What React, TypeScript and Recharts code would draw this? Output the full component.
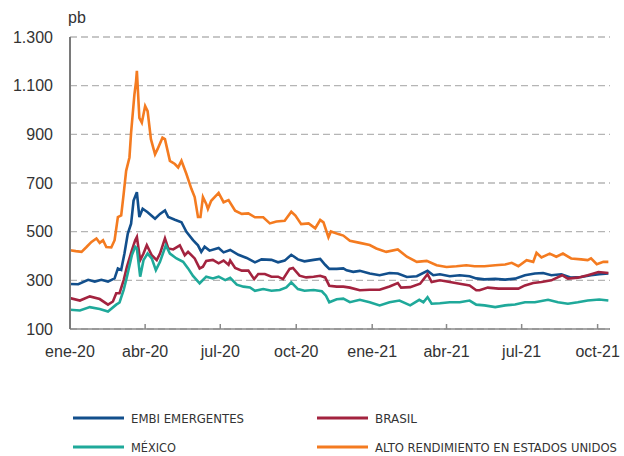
import { LineChart, Line, XAxis, YAxis, CartesianGrid } from 'recharts';

// day index counted from 1 Jan 2020, value in basis points
const altoRendimiento: [number, number][] = [
  [0, 424], [7, 420], [14, 417], [20, 437], [26, 458], [32, 472], [36, 454], [40, 465], [44, 437],
  [50, 435], [54, 465], [58, 560], [62, 567], [65, 655], [68, 750], [72, 805], [74, 907], [78, 1063],
  [80, 1118], [81, 1161], [84, 968], [87, 948], [91, 1016], [94, 995], [98, 880], [103, 818],
  [106, 839], [112, 886], [115, 880], [121, 791], [127, 778], [131, 764], [135, 791], [141, 737],
  [147, 676], [151, 642], [155, 560], [158, 560], [161, 642], [165, 614], [167, 593], [171, 627],
  [180, 659], [186, 621], [192, 630], [200, 586], [208, 573], [216, 575], [224, 559], [234, 559],
  [242, 534], [250, 542], [260, 545], [268, 582], [273, 566], [280, 531], [289, 534], [297, 514],
  [303, 548], [307, 538], [313, 477], [316, 501], [325, 490], [331, 484], [339, 463], [351, 454],
  [363, 445], [371, 431], [383, 417], [397, 427], [408, 397], [420, 376], [432, 380], [444, 362],
  [456, 355], [468, 358], [480, 362], [490, 358], [502, 358], [515, 362], [527, 365], [535, 372],
  [543, 358], [553, 383], [561, 376], [565, 413], [571, 394], [581, 410], [589, 397], [597, 410],
  [607, 390], [619, 386], [627, 383], [631, 390], [638, 366], [646, 376], [652, 376],
];

const embiEmergentes: [number, number][] = [
  [0, 285], [10, 284], [22, 302], [30, 295], [38, 302], [46, 295], [54, 308], [58, 349], [62, 343],
  [66, 411], [70, 492], [74, 533], [77, 628], [81, 662], [84, 560], [88, 594], [94, 580], [103, 553],
  [109, 573], [115, 587], [119, 560], [127, 549], [135, 539], [141, 499], [149, 465], [155, 444],
  [159, 417], [163, 438], [169, 422], [180, 433], [186, 415], [194, 425], [204, 405], [214, 392],
  [224, 374], [232, 386], [244, 384], [252, 374], [260, 381], [268, 405], [276, 386], [284, 378],
  [295, 384], [303, 388], [309, 364], [314, 347], [323, 347], [331, 349], [335, 341], [343, 335],
  [351, 339], [363, 328], [375, 321], [387, 330], [397, 328], [408, 314], [420, 317], [433, 339],
  [440, 321], [448, 325], [460, 317], [472, 321], [484, 317], [492, 308], [502, 304], [515, 306],
  [527, 303], [539, 307], [551, 321], [563, 328], [573, 330], [583, 321], [595, 325], [607, 311],
  [619, 314], [631, 321], [641, 325], [652, 328],
];

const brasil: [number, number][] = [
  [0, 227], [12, 217], [24, 234], [36, 223], [46, 200], [52, 213], [56, 247], [60, 247], [65, 301],
  [69, 356], [75, 424], [79, 465], [81, 478], [85, 383], [89, 410], [93, 444], [99, 403], [105, 383],
  [109, 410], [115, 472], [119, 431], [125, 427], [133, 444], [139, 403], [143, 417], [151, 390],
  [157, 349], [161, 356], [165, 380], [173, 384], [180, 370], [186, 381], [192, 364], [194, 381],
  [200, 351], [208, 340], [216, 340], [223, 305], [228, 326], [236, 326], [244, 315], [252, 315],
  [258, 305], [266, 347], [270, 351], [278, 319], [286, 312], [295, 315], [303, 319], [309, 312],
  [314, 278], [323, 274], [331, 274], [339, 270], [351, 259], [363, 261], [375, 261], [387, 275],
  [397, 289], [401, 270], [412, 272], [424, 286], [433, 325], [438, 293], [448, 300], [460, 293],
  [472, 286], [484, 279], [492, 259], [496, 259], [506, 270], [519, 266], [531, 266], [543, 266],
  [551, 279], [561, 289], [571, 293], [583, 300], [596, 321], [603, 307], [615, 311], [627, 321],
  [640, 334], [652, 330],
];

const mexico: [number, number][] = [
  [0, 179], [12, 176], [24, 190], [36, 182], [46, 172], [56, 200], [60, 209], [65, 261], [69, 315],
  [75, 404], [79, 438], [81, 431], [85, 315], [89, 383], [94, 410], [99, 390], [104, 342], [109, 376],
  [116, 444], [121, 410], [129, 390], [137, 376], [143, 349], [149, 318], [157, 288], [165, 315],
  [173, 308], [180, 315], [188, 301], [194, 310], [202, 282], [210, 274], [218, 271], [224, 257],
  [234, 264], [244, 257], [254, 260], [262, 271], [268, 292], [276, 264], [284, 257], [295, 260],
  [305, 255], [310, 237], [314, 210], [323, 222], [331, 225], [339, 210], [351, 220], [363, 210],
  [375, 197], [387, 210], [399, 217], [412, 197], [423, 220], [428, 210], [433, 231], [438, 204],
  [448, 206], [460, 210], [472, 210], [484, 217], [492, 200], [502, 197], [515, 190], [527, 197],
  [539, 201], [551, 210], [563, 210], [579, 220], [591, 210], [603, 204], [615, 210], [627, 217],
  [641, 221], [652, 217],
];

const xTicks = [0, 91, 182, 274, 366, 456, 547, 639];
const xLabels = ['ene-20', 'abr-20', 'jul-20', 'oct-20', 'ene-21', 'abr-21', 'jul-21', 'oct-21'];
const yTicks = [100, 300, 500, 700, 900, 1100, 1300];

const FONT = "'Liberation Sans', Arial, Helvetica, sans-serif";
const NARROW = "'Liberation Sans Narrow', 'DejaVu Sans Condensed', 'Liberation Sans', sans-serif";
const TEXT = '#333333';

const toRows = (pts: [number, number][]) => pts.map(([day, v]) => ({ day, v }));

const fmtY = (v: number) =>
  v >= 1000 ? `${Math.floor(v / 1000)}.${String(v % 1000).padStart(3, '0')}` : String(v);

const series = [
  { name: 'ALTO RENDIMIENTO EN ESTADOS UNIDOS', pts: altoRendimiento, color: '#f47b20' },
  { name: 'EMBI EMERGENTES', pts: embiEmergentes, color: '#124f8c' },
  { name: 'BRASIL', pts: brasil, color: '#a3233f' },
  { name: 'MÉXICO', pts: mexico, color: '#1fa99a' },
];

const legendItems = [
  { name: 'EMBI EMERGENTES', color: '#124f8c', x: 73, y: 418, w: 113 },
  { name: 'BRASIL', color: '#a3233f', x: 317, y: 418, w: 42 },
  { name: 'MÉXICO', color: '#1fa99a', x: 73, y: 447, w: 45 },
  { name: 'ALTO RENDIMIENTO EN ESTADOS UNIDOS', color: '#f47b20', x: 317, y: 447, w: 242 },
];

export default function App() {
  return (
    <div style={{ position: 'absolute', left: 0, top: 0, width: 624, height: 456, background: '#fff', fontFamily: FONT }}>
      <div style={{ position: 'absolute', left: 68, top: 8, fontSize: 16, color: TEXT, lineHeight: '20px' }}>pb</div>
      <LineChart width={624} height={362} margin={{ top: 37, right: 14, bottom: 0, left: 0 }}>
        <CartesianGrid vertical={false} stroke="#b5b5b5" strokeWidth={1.3} strokeDasharray="7 4" />
        <XAxis
          type="number"
          dataKey="day"
          domain={[0, 654]}
          ticks={xTicks}
          tickFormatter={(v: number) => xLabels[xTicks.indexOf(v)] ?? ''}
          height={33}
          stroke="#8a8a8a"
          strokeWidth={1.5}
          tickSize={-5}
          tickMargin={22}
          tick={{ fill: TEXT, fontSize: 16, fontFamily: FONT }}
          allowDataOverflow
        />
        <YAxis
          type="number"
          domain={[100, 1300]}
          ticks={yTicks}
          tickFormatter={fmtY}
          width={70}
          stroke="#7a7a7a"
          strokeWidth={2}
          tickLine={false}
          tickSize={0}
          tickMargin={17}
          tick={{ fill: TEXT, fontSize: 16, fontFamily: FONT }}
        />
        {series.map((s) => (
          <Line
            key={s.name}
            data={toRows(s.pts)}
            dataKey="v"
            name={s.name}
            type="linear"
            stroke={s.color}
            strokeWidth={2.6}
            dot={false}
            isAnimationActive={false}
          />
        ))}
      </LineChart>
      <svg width={624} height={456} style={{ position: 'absolute', left: 0, top: 0, pointerEvents: 'none' }}>
        {legendItems.map((it) => (
          <g key={it.name}>
            <line x1={it.x} x2={it.x + 51} y1={it.y} y2={it.y} stroke={it.color} strokeWidth={3} />
            <text
              x={it.x + 58}
              y={it.y + 4.5}
              fontSize={12}
              fill={TEXT}
              fontFamily={NARROW}
              textLength={it.w}
              lengthAdjust="spacingAndGlyphs"
            >
              {it.name}
            </text>
          </g>
        ))}
      </svg>
    </div>
  );
}
